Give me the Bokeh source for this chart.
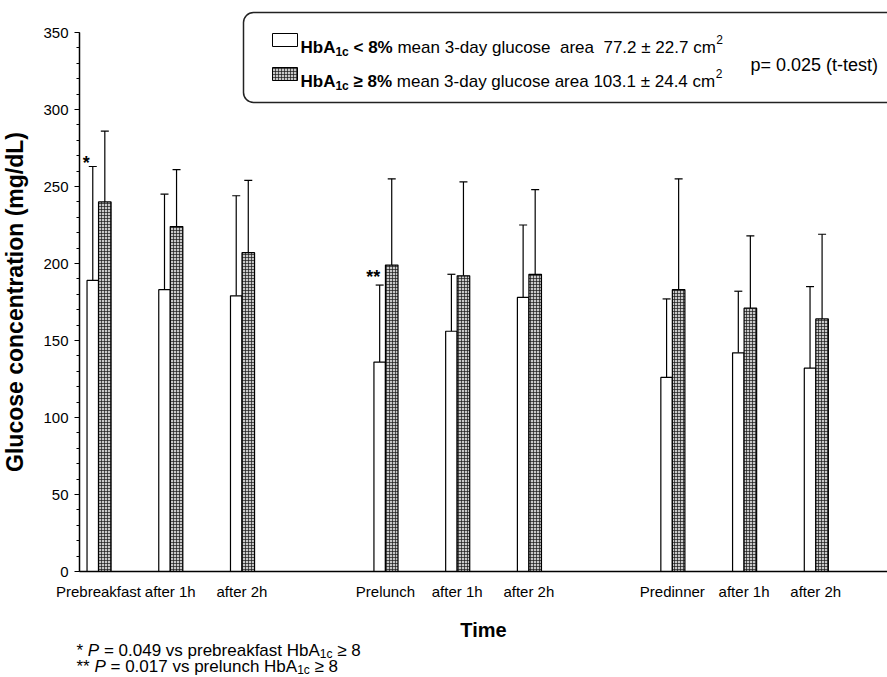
from bokeh.plotting import figure
from bokeh.models import (ColumnDataSource, Range1d, FixedTicker,
                          Whisker, TeeHead, Label, BoxAnnotation)
from bokeh.embed import file_html
from bokeh.resources import INLINE

# ---------------- data ----------------
categories = ["Prebreakfast", "after 1h", "after 2h",
              "Prelunch", "after 1h", "after 2h",
              "Predinner", "after 1h", "after 2h"]
positions = [0, 1, 2, 4, 5, 6, 8, 9, 10]
low_mean = [189, 183, 179, 136, 156, 178, 126, 142, 132]     # HbA1c < 8%
low_sd = [74, 62, 65, 50, 37, 47, 51, 40, 53]
high_mean = [240, 224, 207, 199, 192, 193, 183, 171, 164]    # HbA1c >= 8%
high_sd = [46, 37, 47, 56, 61, 55, 72, 47, 55]
y_ticks = [0, 50, 100, 150, 200, 250, 300, 350]
sig_marks = ["*", "", "", "**", "", "", "", "", ""]   # marker above low-HbA1c bar

FONT = "Liberation Sans"
W, H = 887, 677
AXIS_PX = 79           # pixel column of the y axis
ZERO_PX = 571          # pixel row of y = 0
FY = 1.54              # pixels per mg/dL
XA, X1 = -0.265, 11.0  # x value at the y axis, x value at right edge
FX = (W - AXIS_PX) / (X1 - XA)
X0 = XA - AXIS_PX / FX
Y1 = ZERO_PX / FY
Y0 = -(H - ZERO_PX) / FY


def xd(px):
    return (px - AXIS_PX) / FX + XA


def yd(py):
    return (ZERO_PX - py) / FY


p = figure(width=W, height=H, output_backend="svg", toolbar_location=None,
           x_range=Range1d(X0, X1), y_range=Range1d(Y0, Y1),
           min_border_left=0, min_border_right=0, min_border_top=0,
           min_border_bottom=0, background_fill_color="white",
           border_fill_color="white", outline_line_color=None)
p.grid.visible = False

LOW_OFF, LOW_W = -0.08, 0.16
HIGH_OFF, HIGH_W = 0.088, 0.175

low_x = [x + LOW_OFF for x in positions]
high_x = [x + HIGH_OFF for x in positions]
src_low = ColumnDataSource(dict(x=low_x, top=low_mean,
                                up=[m + s for m, s in zip(low_mean, low_sd)]))
src_high = ColumnDataSource(dict(x=high_x, top=high_mean,
                                 up=[m + s for m, s in zip(high_mean, high_sd)]))

HATCH = dict(fill_color="#c8c8c8", hatch_pattern="+", hatch_scale=3,
             hatch_color="#1a1a1a", hatch_weight=0.7)

p.vbar(x="x", top="top", width=LOW_W, source=src_low, fill_color="white",
       line_color="black", line_width=1.2)
p.vbar(x="x", top="top", width=HIGH_W, source=src_high,
       line_color="black", line_width=1.2, **HATCH)

for src in (src_low, src_high):
    p.add_layout(Whisker(source=src, base="x", lower="top", upper="up",
                         dimension="height", lower_head=None,
                         upper_head=TeeHead(size=8, line_width=1.2, line_color="black"),
                         line_width=1.2, line_color="black"))

for i, mark in enumerate(sig_marks):
    if mark:
        p.add_layout(Label(x=low_x[i] - 0.09,
                           y=low_mean[i] + low_sd[i] - 4 + 2.5 * (len(mark) - 1),
                           text=mark, text_font=FONT, text_font_size="18px",
                           text_font_style="bold", text_align="center",
                           text_baseline="bottom", text_color="black"))

# ---------------- axes ----------------
p.xaxis.fixed_location = 0
p.xaxis.ticker = FixedTicker(ticks=positions)
p.xaxis.major_label_overrides = {pos: lab for pos, lab in zip(positions, categories)}
p.xaxis.major_tick_line_color = None
p.xaxis.minor_tick_line_color = None
p.xaxis.major_label_standoff = 5
p.xaxis.axis_label = "Time"
p.xaxis.axis_label_standoff = 16
p.xaxis.axis_line_width = 1.5
p.xaxis.axis_label_text_font_size = "20px"
p.xaxis.bounds = (XA, X1)

p.yaxis.fixed_location = XA
p.yaxis.ticker = FixedTicker(ticks=y_ticks, minor_ticks=list(range(0, 351, 10)))
p.yaxis.bounds = (0, 350)
p.yaxis.axis_label = "Glucose concentration (mg/dL)"
p.yaxis.major_tick_out = 5
p.yaxis.major_tick_in = 0
p.yaxis.minor_tick_out = 3
p.yaxis.minor_tick_in = 0
p.yaxis.major_label_standoff = 6
p.yaxis.axis_label_standoff = 12
p.yaxis.axis_line_width = 1.5
p.yaxis.axis_label_text_font_size = "23px"
p.yaxis.major_tick_line_color = "black"
p.yaxis.minor_tick_line_color = "black"

for ax in (p.xaxis, p.yaxis):
    ax.major_label_text_font = FONT
    ax.major_label_text_font_size = "15px"
    ax.major_label_text_color = "black"
    ax.axis_label_text_font = FONT
    ax.axis_label_text_font_style = "bold"
    ax.axis_label_text_color = "black"
    ax.axis_line_color = "black"

# ---------------- legend box ----------------
p.add_layout(BoxAnnotation(left=xd(243), right=xd(905), top=yd(12), bottom=yd(102),
                           fill_color=None, fill_alpha=0, line_color="#222222",
                           line_alpha=1, line_width=1.5, border_radius=10))

REG = {' ': 278, '\u00a0': 278, '(': 333, ')': 333, '*': 389, '-': 333, '.': 278,
       '/': 278, '=': 584, '<': 584, '>': 584, '\u2265': 549, '\u00b1': 584, '%': 889,
       'a': 556, 'b': 556, 'c': 500, 'd': 556, 'e': 556, 'f': 278, 'g': 556, 'h': 556,
       'i': 222, 'k': 500, 'l': 222, 'm': 833, 'n': 556, 'o': 556, 'p': 556, 'r': 333,
       's': 500, 't': 278, 'u': 556, 'v': 500, 'y': 500, 'A': 667, 'H': 722, 'P': 667}
BOLD = {' ': 278, '<': 584, '\u2265': 549, '%': 889, 'b': 611, 'c': 556, 'A': 722,
        'H': 722}


def tw(s, size, bold=False):
    tab = BOLD if bold else REG
    return sum(tab.get(ch, 556) for ch in s) / 1000 * size


def runs(x_px, base_px, parts):
    x = x_px
    for text, size, style, dy in parts:
        lead = len(text) - len(text.lstrip(" "))
        x += tw(" " * lead, size, "bold" in style)
        body = text.strip(" ")
        p.add_layout(Label(x=xd(x), y=yd(base_px + dy), text=body, text_font=FONT,
                           text_font_size=f"{size}px", text_font_style=style,
                           text_baseline="alphabetic", text_align="left",
                           text_color="black"))
        x += tw(body, size, "bold" in style)


LS = 17
SUB = 12
NB = "\u00a0"
# swatches
p.quad(left=[xd(272)], right=[xd(297)], top=[yd(33)], bottom=[yd(46)],
       fill_color="white", line_color="black", line_width=1)
p.quad(left=[xd(272)], right=[xd(297)], top=[yd(67)], bottom=[yd(80)],
       line_color="black", line_width=1, **HATCH)

runs(300, 47, [("HbA", LS, "bold", 0), ("1c", SUB, "bold", 4), (" < 8%", LS, "bold", 0),
               (" mean 3-day glucose" + NB + " area" + NB + " 77.2 \u00b1 22.7 cm",
                LS, "normal", 0),
               ("2", SUB, "normal", -8)])
runs(300, 81, [("HbA", LS, "bold", 0), ("1c", SUB, "bold", 4), (" \u2265 8%", LS, "bold", 0),
               (" mean 3-day glucose area 103.1 \u00b1 24.4 cm", LS, "normal", 0),
               ("2", SUB, "normal", -8)])
runs(750, 64, [("p= 0.025 (t-test)", 18, "normal", 0)])

# ---------------- footnotes ----------------
runs(76, 650, [("*", LS, "normal", 0), (" P", LS, "italic", 0),
               (" = 0.049 vs prebreakfast HbA", LS, "normal", 0), ("1c", SUB, "normal", 3),
               (" \u2265 8", LS, "normal", 0)])
runs(76, 666, [("**", LS, "normal", 0), (" P", LS, "italic", 0),
               (" = 0.017 vs prelunch HbA", LS, "normal", 0), ("1c", SUB, "normal", 3),
               (" \u2265 8", LS, "normal", 0)])

open("out.html", "w").write(file_html(p, INLINE))
